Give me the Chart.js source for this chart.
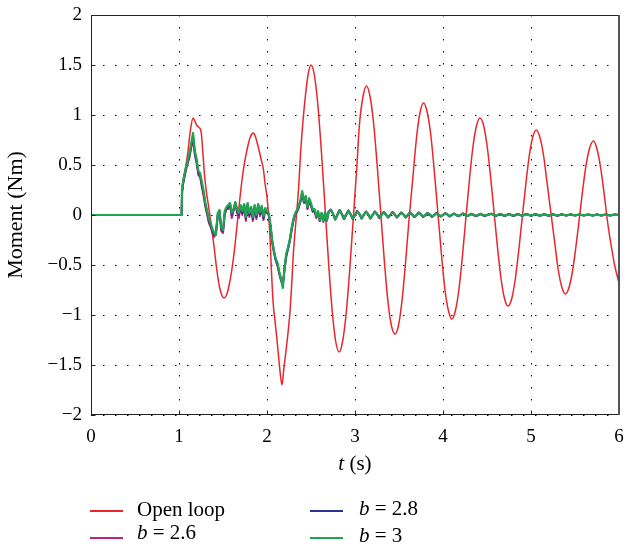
<!DOCTYPE html>
<html>
<head>
<meta charset="utf-8">
<script src="https://cdn.jsdelivr.net/npm/chart.js@4.4.1/dist/chart.umd.min.js"></script>
<style>
  html, body { margin: 0; padding: 0; background: #fff; }
  #wrap { position: relative; width: 624px; height: 549px; font-family: "Liberation Serif", "DejaVu Serif", serif; color: #000; }
  #chart { position: absolute; left: 0; top: 0; }
  .key { position: absolute; height: 1.6px; width: 33px; }
  .lbl { position: absolute; font-size: 21px; line-height: 21px; white-space: nowrap; }
  .lbl i { font-style: italic; }
  #xtitle { position: absolute; left: 255px; width: 200px; top: 453px; text-align: center; font-size: 21px; line-height: 21px; }
</style>
</head>
<body>
<div id="wrap">
  <canvas id="chart" width="624" height="549"></canvas>
  <div id="xtitle"><i>t</i> (s)</div>
  <div class="key" style="left:90px; top:510px; background:#e8262c"></div>
  <div class="lbl" style="left:137px; top:499px">Open loop</div>
  <div class="key" style="left:90px; top:537px; background:#c0237a"></div>
  <div class="lbl" style="left:137px; top:522px"><i>b</i> = 2.6</div>
  <div class="key" style="left:310px; top:510px; background:#2e3192"></div>
  <div class="lbl" style="left:359px; top:498px"><i>b</i> = 2.8</div>
  <div class="key" style="left:310px; top:537px; background:#22a350"></div>
  <div class="lbl" style="left:359px; top:525px"><i>b</i> = 3</div>
</div>
<script>
const xTickLabels = ["0", "1", "2", "3", "4", "5", "6"];
const yTickLabels = ["\u22122", "\u22121.5", "\u22121", "\u22120.5", "0", "0.5", "1", "1.5", "2"];

// open loop response
const tOpen = [
  0, 1.03, 1.04, 1.07, 1.10, 1.13, 1.16, 1.18, 1.20, 1.22,
  1.25, 1.27, 1.29, 1.31, 1.33, 1.35, 1.37, 1.40, 1.43, 1.46,
  1.49, 1.51, 1.54, 1.57, 1.60, 1.63, 1.66, 1.69, 1.72, 1.75,
  1.78, 1.81, 1.845, 1.87, 1.90, 1.93, 1.96, 1.98, 2.00, 2.03,
  2.05, 2.07, 2.09, 2.11, 2.13, 2.15, 2.17, 2.19, 2.21, 2.23,
  2.26, 2.28, 2.30, 2.33, 2.36, 2.38, 2.41, 2.44, 2.47, 2.50,
  2.54, 2.58, 2.62, 2.66, 2.70, 2.74, 2.78, 2.82,
  2.86, 2.90, 2.94, 2.98, 3.02, 3.05, 3.09, 3.13,
  3.17, 3.21, 3.25, 3.29, 3.33, 3.37, 3.41, 3.455,
  3.495, 3.535, 3.575, 3.615, 3.66, 3.70, 3.74, 3.78,
  3.82, 3.86, 3.90, 3.94, 3.98, 4.02, 4.06, 4.10,
  4.14, 4.18, 4.22, 4.26, 4.30, 4.34, 4.38, 4.42,
  4.46, 4.50, 4.54, 4.58, 4.62, 4.66, 4.70, 4.74,
  4.78, 4.82, 4.86, 4.90, 4.94, 4.98, 5.02, 5.06,
  5.10, 5.14, 5.18, 5.225, 5.27, 5.31, 5.35, 5.39,
  5.43, 5.47, 5.51, 5.55, 5.59, 5.63, 5.67, 5.71,
  5.75, 5.79, 5.83, 5.87, 5.91, 5.95, 6.00
];
const openLoop = [
  0, 0, 0.25, 0.45, 0.62, 0.85, 0.97, 0.94, 0.90, 0.88,
  0.84, 0.64, 0.40, 0.24, 0.12, 0.00, -0.12, -0.33, -0.55, -0.72,
  -0.81, -0.83, -0.80, -0.70, -0.55, -0.35, -0.10, 0.15, 0.38, 0.55,
  0.68, 0.78, 0.82, 0.78, 0.68, 0.57, 0.45, 0.30, 0.18, -0.15,
  -0.55, -0.88, -1.05, -1.22, -1.40, -1.58, -1.70, -1.55, -1.40, -1.25,
  -0.98, -0.70, -0.38, -0.05, 0.28, 0.60, 0.95, 1.22, 1.42, 1.50,
  1.39, 1.08, 0.61, 0.07, -0.48, -0.95, -1.26, -1.37,
  -1.26, -0.98, -0.55, -0.04, 0.47, 0.90, 1.18, 1.29,
  1.19, 0.93, 0.52, 0.05, -0.42, -0.83, -1.09, -1.19,
  -1.10, -0.85, -0.47, -0.035, 0.40, 0.78, 1.03, 1.12,
  1.03, 0.81, 0.45, 0.04, -0.37, -0.73, -0.95, -1.04,
  -0.96, -0.75, -0.42, -0.03, 0.35, 0.68, 0.89, 0.97,
  0.90, 0.70, 0.39, 0.03, -0.33, -0.64, -0.84, -0.91,
  -0.84, -0.65, -0.36, -0.03, 0.30, 0.59, 0.78, 0.85,
  0.78, 0.61, 0.34, 0.03, -0.28, -0.55, -0.72, -0.79,
  -0.73, -0.57, -0.32, -0.03, 0.27, 0.52, 0.68, 0.74,
  0.66, 0.48, 0.22, -0.07, -0.30, -0.50, -0.68
];

// controlled responses share one time base
const tCtrl = [
  0, 1.03, 1.035,
  1.04, 1.06, 1.08, 1.10, 1.12, 1.14, 1.16, 1.18, 1.20, 1.22, 1.24, 1.26,
  1.28, 1.30, 1.32, 1.34, 1.36, 1.38, 1.40, 1.42, 1.44, 1.46, 1.48, 1.50,
  1.52, 1.54, 1.56, 1.58, 1.60, 1.62, 1.64, 1.66, 1.68, 1.70, 1.72, 1.74,
  1.76, 1.78, 1.80, 1.82, 1.84, 1.86, 1.88, 1.90, 1.92, 1.94, 1.96, 1.98,
  2.00, 2.02, 2.04, 2.06, 2.08, 2.10, 2.12, 2.14, 2.16, 2.18, 2.20, 2.22,
  2.24, 2.26, 2.28, 2.30, 2.32, 2.34, 2.36, 2.38, 2.40, 2.42, 2.44, 2.46,
  2.48, 2.50, 2.52, 2.54, 2.56, 2.58, 2.60, 2.62, 2.64, 2.66, 2.68, 2.70,
  2.725, 2.75, 2.775, 2.80, 2.825, 2.85, 2.875, 2.90, 2.925, 2.95, 2.975, 3.00,
  3.025, 3.05, 3.075, 3.10, 3.125, 3.15, 3.175, 3.20, 3.225, 3.25, 3.275, 3.30,
  3.325, 3.35, 3.375, 3.40, 3.425, 3.45, 3.475, 3.50, 3.525, 3.55, 3.575, 3.60,
  3.625, 3.65, 3.675, 3.70, 3.725, 3.75, 3.775, 3.80, 3.825, 3.85, 3.875, 3.90,
  3.925, 3.95, 3.975, 4.00, 4.025, 4.05, 4.075, 4.10, 4.125, 4.15, 4.175, 4.20,
  4.225, 4.25, 4.275, 4.30, 4.325, 4.35, 4.375, 4.40, 4.425, 4.45, 4.475, 4.50,
  4.55, 4.60, 4.65, 4.70, 4.75, 4.80, 4.85, 4.90, 4.95, 5.00,
  5.05, 5.10, 5.15, 5.20, 5.25, 5.30, 5.35, 5.40, 5.45, 5.50,
  5.55, 5.60, 5.65, 5.70, 5.75, 5.80, 5.85, 5.90, 5.95, 6.00
];
const b26 = [
  0, 0, 0.25,
  0.28, 0.37, 0.45, 0.52, 0.58, 0.68, 0.76, 0.60, 0.52, 0.40, 0.38, 0.28,
  0.19, 0.08, 0.00, -0.08, -0.12, -0.18, -0.22, -0.17, -0.02, 0.03, -0.16, -0.18,
  0.00, 0.06, 0.06, 0.10, -0.03, 0.04, 0.12, 0.02, -0.03, 0.08, 0.00, 0.10,
  -0.06, 0.10, -0.02, 0.06, -0.06, 0.08, -0.04, 0.09, -0.01, 0.07, -0.05, 0.05,
  0.02, 0.00, -0.12, -0.28, -0.38, -0.46, -0.51, -0.59, -0.66, -0.69, -0.54, -0.41,
  -0.34, -0.26, -0.15, -0.06, 0.00, 0.03, 0.07, 0.13, 0.20, 0.12, 0.16, 0.06,
  0.14, 0.09, 0.03, 0.04, -0.03, 0.02, -0.06, 0.01, -0.07, 0.02, -0.06, 0.03,
  0.05, 0.015, -0.045, 0.005, 0.05, 0.01, -0.04, 0.005, 0.045, 0.01, -0.04, 0.00,
  0.04, 0.01, -0.035, 0.005, 0.035, 0.01, -0.035, 0.00, 0.035, 0.01, -0.03, 0.00,
  0.03, 0.01, -0.025, 0.00, 0.03, 0.01, -0.025, 0.00, 0.025, 0.01, -0.025, 0.00,
  0.025, 0.005, -0.02, 0.00, 0.025, 0.005, -0.02, 0.00, 0.02, 0.005, -0.02, 0.00,
  0.02, 0.005, -0.015, 0.00, 0.018, 0.005, -0.015, 0.00, 0.015, 0.00, -0.012, 0.00,
  0.015, 0.005, -0.012, 0.00, 0.012, 0.00, -0.012, 0.00, 0.012, 0.00, -0.01, 0.00,
  0.014, -0.01, 0.012, -0.01, 0.012, -0.01, 0.012, -0.008, 0.01, -0.008,
  0.01, -0.008, 0.009, -0.008, 0.008, -0.007, 0.008, -0.006, 0.007, -0.006,
  0.006, -0.005, 0.006, -0.005, 0.005, -0.005, 0.005, -0.004, 0.004, 0.00
];
const b28 = [
  0, 0, 0.26,
  0.29, 0.38, 0.47, 0.53, 0.60, 0.70, 0.78, 0.62, 0.54, 0.42, 0.40, 0.30,
  0.21, 0.10, 0.02, -0.06, -0.10, -0.16, -0.20, -0.18, 0.00, 0.04, -0.14, -0.16,
  0.02, 0.07, 0.08, 0.11, 0.00, 0.05, 0.12, 0.04, 0.00, 0.09, 0.02, 0.10,
  -0.04, 0.11, 0.00, 0.07, -0.04, 0.09, -0.02, 0.10, 0.01, 0.08, -0.03, 0.06,
  0.03, 0.01, -0.11, -0.27, -0.37, -0.45, -0.50, -0.58, -0.65, -0.70, -0.53, -0.40,
  -0.33, -0.25, -0.14, -0.05, 0.01, 0.04, 0.08, 0.14, 0.22, 0.13, 0.17, 0.07,
  0.15, 0.10, 0.04, 0.05, -0.02, 0.03, -0.06, 0.02, -0.06, 0.02, -0.05, 0.03,
  0.055, 0.01, -0.045, 0.00, 0.05, 0.01, -0.04, 0.00, 0.045, 0.005, -0.04, 0.00,
  0.04, 0.01, -0.035, 0.00, 0.035, 0.005, -0.035, 0.00, 0.035, 0.01, -0.03, 0.00,
  0.03, 0.005, -0.025, 0.00, 0.03, 0.005, -0.025, 0.00, 0.025, 0.005, -0.025, 0.00,
  0.025, 0.005, -0.02, 0.00, 0.025, 0.005, -0.02, 0.00, 0.02, 0.005, -0.02, 0.00,
  0.02, 0.00, -0.015, 0.00, 0.018, 0.005, -0.015, 0.00, 0.015, 0.00, -0.012, 0.00,
  0.015, 0.005, -0.012, 0.00, 0.012, 0.00, -0.012, 0.00, 0.012, 0.00, -0.01, 0.00,
  0.012, -0.01, 0.012, -0.01, 0.01, -0.01, 0.01, -0.008, 0.01, -0.008,
  0.009, -0.008, 0.008, -0.007, 0.008, -0.007, 0.007, -0.006, 0.007, -0.006,
  0.006, -0.005, 0.006, -0.005, 0.005, -0.005, 0.005, -0.004, 0.004, 0.00
];
const b30 = [
  0, 0, 0.27,
  0.30, 0.40, 0.48, 0.55, 0.62, 0.72, 0.82, 0.64, 0.56, 0.44, 0.42, 0.33,
  0.24, 0.12, 0.04, -0.04, -0.08, -0.14, -0.18, -0.20, 0.02, 0.05, -0.12, -0.15,
  0.04, 0.08, 0.10, 0.12, 0.02, 0.06, 0.13, 0.06, 0.02, 0.10, 0.04, 0.11,
  -0.02, 0.12, 0.02, 0.08, -0.02, 0.10, 0.00, 0.11, 0.03, 0.09, -0.01, 0.07,
  0.04, 0.02, -0.10, -0.26, -0.36, -0.44, -0.48, -0.57, -0.64, -0.73, -0.52, -0.38,
  -0.32, -0.24, -0.13, -0.04, 0.02, 0.05, 0.09, 0.15, 0.24, 0.14, 0.19, 0.08,
  0.17, 0.12, 0.05, 0.06, -0.01, 0.04, -0.05, 0.02, -0.06, 0.03, -0.05, 0.03,
  0.05, 0.01, -0.04, 0.00, 0.045, 0.01, -0.035, 0.00, 0.04, 0.005, -0.035, 0.00,
  0.035, 0.01, -0.03, 0.00, 0.03, 0.005, -0.03, 0.00, 0.03, 0.01, -0.025, 0.00,
  0.025, 0.005, -0.02, 0.00, 0.025, 0.005, -0.02, 0.00, 0.02, 0.005, -0.02, 0.00,
  0.02, 0.005, -0.015, 0.00, 0.02, 0.005, -0.015, 0.00, 0.015, 0.005, -0.015, 0.00,
  0.015, 0.00, -0.01, 0.00, 0.015, 0.005, -0.01, 0.00, 0.012, 0.00, -0.01, 0.00,
  0.012, 0.005, -0.01, 0.00, 0.01, 0.00, -0.01, 0.00, 0.01, 0.00, -0.008, 0.00,
  0.01, -0.008, 0.01, -0.008, 0.008, -0.008, 0.008, -0.006, 0.008, -0.006,
  0.007, -0.006, 0.006, -0.005, 0.006, -0.005, 0.005, -0.005, 0.005, -0.004,
  0.005, -0.004, 0.004, -0.004, 0.004, -0.003, 0.004, -0.003, 0.003, 0.00
];

function pts(ts, vs) {
  return ts.map((t, i) => ({ x: t, y: vs[i] }));
}

// box round the plot, inward ticks on the left and bottom
const frame = {
  id: "frame",
  afterDatasetsDraw(chart) {
    const { ctx, chartArea: a, scales } = chart;
    const L = Math.round(a.left) + 0.5, R = Math.round(a.right) - 0.5;
    const T = Math.round(a.top) + 0.5, B = Math.round(a.bottom) - 0.5;
    ctx.save();
    ctx.strokeStyle = "#222";
    ctx.lineWidth = 1;
    ctx.beginPath();
    scales.x.ticks.forEach((t) => {
      const px = Math.round(scales.x.getPixelForValue(t.value)) + 0.5;
      ctx.moveTo(px, B); ctx.lineTo(px, B - 4);
    });
    scales.y.ticks.forEach((t) => {
      const py = Math.round(scales.y.getPixelForValue(t.value)) + 0.5;
      ctx.moveTo(L, py); ctx.lineTo(L + 4, py);
    });
    ctx.stroke();
    ctx.strokeRect(L, T, R - L, B - T);
    ctx.strokeStyle = "#555";
    ctx.lineWidth = 2;
    ctx.beginPath();
    ctx.moveTo(R + 0.5, T - 0.5); ctx.lineTo(R + 0.5, B + 0.5);
    ctx.stroke();
    ctx.restore();
  },
};

const serif = "'Liberation Serif', 'DejaVu Serif', serif";

new Chart(document.getElementById("chart"), {
  type: "line",
  data: {
    datasets: [
      { label: "Open loop", data: pts(tOpen, openLoop), borderColor: "#e8262c", borderWidth: 1.5, cubicInterpolationMode: "monotone", order: 4 },
      { label: "b = 2.6", data: pts(tCtrl, b26), borderColor: "#c0237a", borderWidth: 2, order: 3 },
      { label: "b = 2.8", data: pts(tCtrl, b28), borderColor: "#2e3192", borderWidth: 2, order: 2 },
      { label: "b = 3", data: pts(tCtrl, b30), borderColor: "#22a350", borderWidth: 2.2, order: 1 },
    ],
  },
  options: {
    responsive: false,
    animation: false,
    events: [],
    elements: { point: { radius: 0 }, line: { tension: 0, borderJoinStyle: "round" } },
    layout: { padding: { left: 0, right: 5, top: 15, bottom: 72 } },
    plugins: { legend: { display: false }, tooltip: { enabled: false } },
    scales: {
      x: {
        type: "linear",
        min: 0,
        max: 6,
        afterFit: (s) => { s.height = 62; s.paddingLeft = 0; s.paddingRight = 0; },
        ticks: {
          stepSize: 1,
          color: "#000",
          padding: 11,
          maxRotation: 0,
          font: { family: serif, size: 19 },
          callback: (v, i) => xTickLabels[i],
        },
        grid: { color: "#000", lineWidth: 1, drawTicks: false },
        border: { display: false, dash: [1.5, 10.5] },
      },
      y: {
        type: "linear",
        min: -2,
        max: 2,
        afterFit: (s) => { s.width = 91; s.paddingTop = 0; s.paddingBottom = 0; },
        ticks: {
          stepSize: 0.5,
          color: "#000",
          padding: 9,
          font: { family: serif, size: 19 },
          callback: (v, i) => yTickLabels[i],
        },
        grid: { color: "#000", lineWidth: 1, drawTicks: false },
        border: { display: false, dash: [1.5, 10.5] },
        title: {
          display: true,
          text: "Moment (Nm)",
          color: "#000",
          padding: { top: 3, bottom: 0 },
          font: { family: serif, size: 22 },
        },
      },
    },
  },
  plugins: [frame],
});
</script>
</body>
</html>
